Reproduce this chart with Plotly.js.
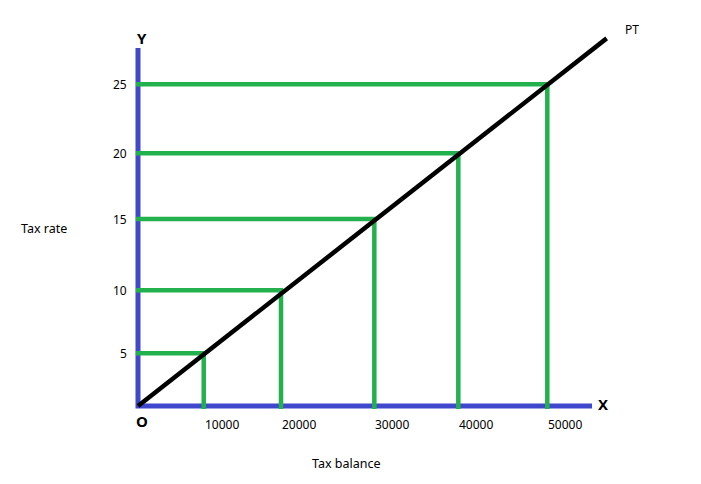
<!DOCTYPE html>
<html>
<head>
<meta charset="utf-8">
<script src="https://cdn.plot.ly/plotly-3.0.1.min.js"></script>
<style>html,body{margin:0;padding:0;background:#fff;}#chart{width:701px;height:484px;}</style>
</head>
<body>
<div id="chart"></div>
<script>
// Tick labels as written on the sketch
const xLabels = ['10000', '20000', '30000', '40000', '50000'];
const yLabels = ['5', '10', '15', '20', '25'];
// Positions of the drawn guide points on a uniform scale
const taxBalance = [8030, 17470, 28870, 39130, 50000];
const taxRate = [4.10, 8.99, 14.53, 19.64, 25.0];
// Axis extents and PT line end
const axisXEnd = 55460;
const axisYEnd = 27.82;
const ptBalance = [0, 57250];
const ptRate = [0, 28.57];

const W = 701, H = 484;
const originPx = [138, 406];
const xPerPx = 50000 / (547.3 - 138);
const yPerPx = 25 / (406 - 84.3);
const xRange = [-originPx[0] * xPerPx, (W - originPx[0]) * xPerPx];
const yRange = [-(H - originPx[1]) * yPerPx, originPx[1] * yPerPx];

const blue = '#3f48cc', green = '#22b14c';
const font = 'Noto Sans, Open Sans, DejaVu Sans, sans-serif';
const overhang = 2;

const traces = [];
// axes
traces.push({x: [0, 0, axisXEnd], y: [axisYEnd, 0, 0], mode: 'lines',
  line: {color: blue, width: 5}, hoverinfo: 'skip'});
// green guides
for (let i = 0; i < taxBalance.length; i++) {
  traces.push({x: [-overhang * xPerPx, taxBalance[i], taxBalance[i]],
    y: [taxRate[i], taxRate[i], -overhang * 1.5 * yPerPx], mode: 'lines',
    line: {color: green, width: 4.5}, hoverinfo: 'skip'});
}
// PT line
traces.push({x: ptBalance, y: ptRate, mode: 'lines',
  line: {color: '#000', width: 4.5}, hoverinfo: 'skip'});

const ann = [];
xLabels.forEach((t, i) => ann.push({x: taxBalance[i], y: 0, text: t, showarrow: false,
  xanchor: 'center', yanchor: 'middle', xshift: 18, yshift: -18,
  font: {family: font, size: 12, color: '#000'}}));
yLabels.forEach((t, i) => ann.push({x: 0, y: taxRate[i], text: t, showarrow: false,
  xanchor: 'right', yanchor: 'middle', xshift: -9, yshift: 0,
  font: {family: font, size: 12, color: '#000'}}));
ann.push({x: 0, y: axisYEnd, text: '<b>Y</b>', showarrow: false, xanchor: 'center', yanchor: 'middle',
  xshift: 4, yshift: 10, font: {family: font, size: 15, color: '#000'}});
ann.push({x: axisXEnd, y: 0, text: '<b>X</b>', showarrow: false, xanchor: 'center', yanchor: 'middle',
  xshift: 11, yshift: 2, font: {family: font, size: 15, color: '#000'}});
ann.push({x: 0, y: 0, text: '<b>O</b>', showarrow: false, xanchor: 'center', yanchor: 'middle',
  xshift: 4, yshift: -15, font: {family: font, size: 15, color: '#000'}});
ann.push({x: ptBalance[1], y: ptRate[1], text: 'PT', showarrow: false, xanchor: 'center', yanchor: 'middle',
  xshift: 25, yshift: 9, font: {family: font, size: 12, color: '#000'}});
ann.push({xref: 'paper', yref: 'paper', x: 44 / W, y: 1 - 229 / H, text: 'Tax rate', showarrow: false,
  xanchor: 'center', yanchor: 'middle', font: {family: font, size: 12.5, color: '#000'}});
ann.push({xref: 'paper', yref: 'paper', x: 346 / W, y: 1 - 463 / H, text: 'Tax balance', showarrow: false,
  xanchor: 'center', yanchor: 'middle', font: {family: font, size: 12.5, color: '#000'}});

const layout = {
  width: W, height: H,
  margin: {l: 0, r: 0, t: 0, b: 0, pad: 0},
  paper_bgcolor: '#fff', plot_bgcolor: '#fff',
  showlegend: false, hovermode: false,
  xaxis: {range: xRange, visible: false, fixedrange: true},
  yaxis: {range: yRange, visible: false, fixedrange: true},
  annotations: ann
};
Plotly.newPlot('chart', traces, layout, {displayModeBar: false, staticPlot: true});
</script>
</body>
</html>
